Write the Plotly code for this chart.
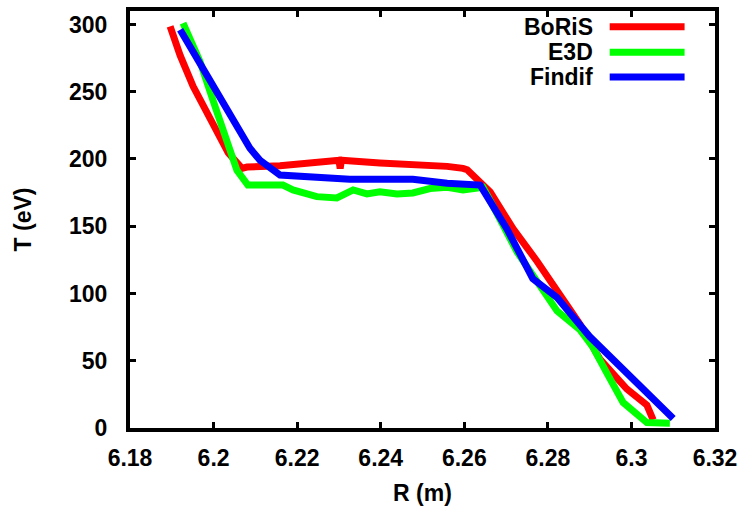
import plotly.graph_objects as go

# Temperature profiles T(R) from three codes
boris_r = [6.1896, 6.192, 6.1951, 6.1984, 6.2008, 6.2035, 6.2068, 6.208, 6.2159, 6.2238,
           6.2300, 6.2303, 6.2306, 6.2398, 6.2477, 6.2559, 6.2597, 6.2607, 6.2662, 6.2717,
           6.2774, 6.2822, 6.2877, 6.2925, 6.2989, 6.3037, 6.3052]
boris_t = [298.5, 277, 254, 235, 218.5, 204.6, 193, 194, 195, 197,
           199, 193, 199, 197, 196, 194.5, 193, 192, 175.5, 148,
           124, 102, 77, 51, 29, 17, 6]

e3d_r = [6.1927, 6.1968, 6.2008, 6.2039, 6.2056, 6.2082, 6.2166, 6.219, 6.2247, 6.2295,
         6.2334, 6.2367, 6.2398, 6.2439, 6.2477, 6.2518, 6.2559, 6.2597, 6.263, 6.2645,
         6.2726, 6.2764, 6.2822, 6.2877, 6.2908, 6.2941, 6.298, 6.3037, 6.3092]
e3d_t = [301, 272, 235, 208, 191.5, 180.6, 180.6, 177, 172, 171,
         177, 174, 175.6, 174, 174.7, 178, 179, 177, 178, 179,
         131, 113.6, 87, 73, 60, 41, 19, 4, 3.6]

findif_r = [6.192, 6.2087, 6.2111, 6.2159, 6.2326, 6.2477, 6.2559, 6.2638, 6.2702, 6.2764,
            6.2822, 6.29, 6.31]
findif_t = [296, 208, 199, 188, 185, 185, 182, 180.6, 148, 111,
            97, 68, 7]

series = [
    ("BoRiS", boris_r, boris_t, "#ff0000"),
    ("E3D", e3d_r, e3d_t, "#00ff00"),
    ("Findif", findif_r, findif_t, "#0000ff"),
]

x_ticks = [6.18, 6.2, 6.22, 6.24, 6.26, 6.28, 6.3, 6.32]
x_labels = ["6.18", "6.2", "6.22", "6.24", "6.26", "6.28", "6.3", "6.32"]
y_ticks = [0, 50, 100, 150, 200, 250, 300]

font = dict(family="Liberation Sans, Arial, sans-serif", size=23, color="black", weight="bold")

fig = go.Figure()
for name, r, t, color in series:
    fig.add_trace(go.Scatter(x=r, y=t, mode="lines", name=name,
                             line=dict(color=color, width=7), showlegend=False))

# Key in the upper right: label followed by a line sample
key_y = [0.962, 0.901, 0.842]
for (name, _, _, color), ky in zip(series, key_y):
    fig.add_annotation(xref="paper", yref="paper", x=0.795, y=ky, text=name,
                       showarrow=False, xanchor="right", yanchor="middle", font=font)
    fig.add_shape(type="line", xref="paper", yref="paper", x0=0.820, x1=0.948,
                  y0=ky, y1=ky, line=dict(color=color, width=7))

axis_common = dict(showline=True, linecolor="black", linewidth=4, mirror="ticks",
                   ticks="inside", ticklen=6, tickwidth=3, tickcolor="black",
                   showgrid=False, zeroline=False, tickfont=font)

fig.update_layout(
    width=744, height=510,
    margin=dict(l=130, r=29, t=7, b=77),
    paper_bgcolor="white", plot_bgcolor="white",
    xaxis=dict(range=[6.18, 6.32], tickvals=x_ticks, ticktext=x_labels,
               ticklabelstandoff=6,
               title=dict(text="R (m)", font=font, standoff=16), **axis_common),
    yaxis=dict(range=[0, 310], tickvals=y_ticks, ticklabelstandoff=14,
               title=dict(text="T (eV)", font=font, standoff=32), **axis_common),
)

fig.write_html("out.html")
